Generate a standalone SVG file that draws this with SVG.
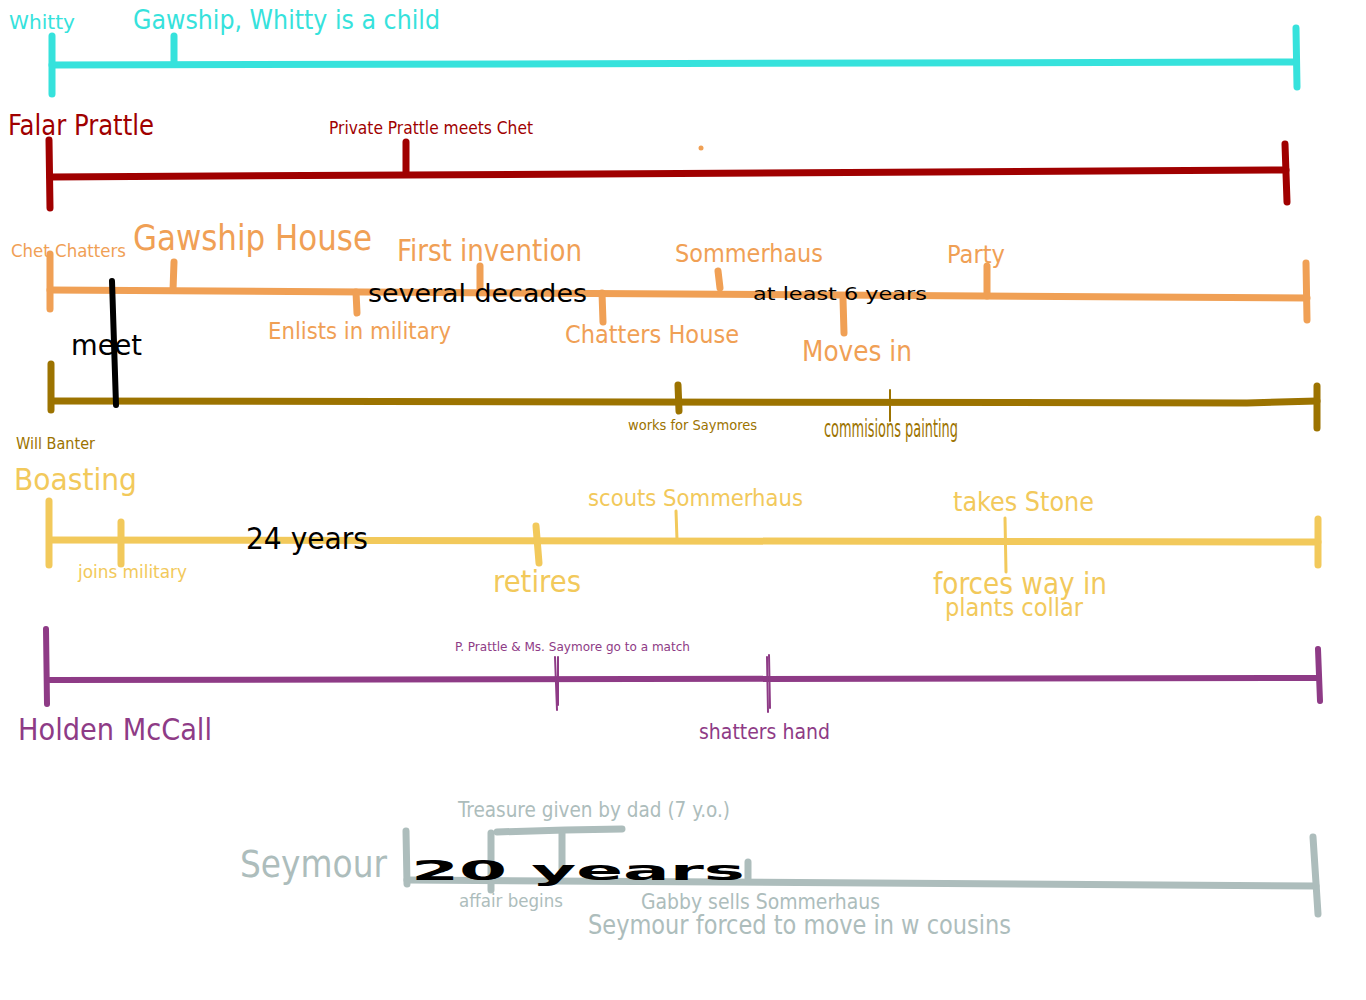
<svg xmlns="http://www.w3.org/2000/svg" width="1366" height="1000" viewBox="0 0 1366 1000">
<style>
text{font-family:"DejaVu Sans Condensed","DejaVu Sans","Liberation Sans",sans-serif;}
.ln{fill:none;stroke-linecap:round;stroke-linejoin:round;}
.cy{stroke:#36E2DC;} .cyt{fill:#36E2DC;}
.rd{stroke:#A00000;} .rdt{fill:#A00000;}
.or{stroke:#F0A055;} .ort{fill:#F0A055;}
.ol{stroke:#9C7300;} .olt{fill:#9C7300;}
.ye{stroke:#F2C95B;} .yet{fill:#F2C95B;}
.pu{stroke:#8E3B86;} .put{fill:#8E3B86;}
.gr{stroke:#ADBDBC;} .grt{fill:#ADBDBC;}
.bk{fill:#000;}
</style>
<rect width="1366" height="1000" fill="#fff"/>

<g id="whitty">
<g class="ln cy" stroke-width="7">
<path d="M52 65 L1296 62"/>
<path d="M52 36 L52 94"/>
<path d="M174 36 L174 63"/>
<path d="M1296 28 L1297 87"/>
</g>
<text class="cyt" x="9" y="29" font-size="20" textLength="66" lengthAdjust="spacingAndGlyphs">Whitty</text>
<text class="cyt" x="133" y="29" font-size="27" textLength="307" lengthAdjust="spacingAndGlyphs">Gawship, Whitty is a child</text>
</g>

<g id="falar-prattle">
<g class="ln rd" stroke-width="7">
<path d="M50 177 L1286 170"/>
<path d="M49 140 L50 208"/>
<path d="M406 142 L406 172"/>
<path d="M1285 144 L1287 202"/>
</g>
<text class="rdt" x="8" y="135" font-size="28" textLength="146" lengthAdjust="spacingAndGlyphs">Falar Prattle</text>
<text class="rdt" x="329" y="134" font-size="17" textLength="204" lengthAdjust="spacingAndGlyphs">Private Prattle meets Chet</text>
<circle cx="701" cy="148" r="2.5" fill="#F0A055"/>
</g>

<g id="chet-chatters">
<g class="ln or" stroke-width="7">
<path d="M50 290 L1307 298"/>
<path d="M50 254 L50 309"/>
<path d="M174 262 L173 290"/>
<path d="M356 292 L357 313"/>
<path d="M480 266 L480 292"/>
<path d="M602 293 L603 322"/>
<path d="M718 271 L720 288"/>
<path d="M843 299 L844 333"/>
<path d="M987 266 L987 296"/>
<path d="M1306 263 L1307 320"/>
</g>
<text class="ort" x="11" y="257" font-size="18" textLength="115" lengthAdjust="spacingAndGlyphs">Chet Chatters</text>
<text class="ort" x="133" y="250" font-size="36" textLength="239" lengthAdjust="spacingAndGlyphs">Gawship House</text>
<text class="ort" x="397" y="261" font-size="30" textLength="185" lengthAdjust="spacingAndGlyphs">First invention</text>
<text class="ort" x="675" y="262" font-size="25" textLength="148" lengthAdjust="spacingAndGlyphs">Sommerhaus</text>
<text class="ort" x="947" y="263" font-size="25" textLength="58" lengthAdjust="spacingAndGlyphs">Party</text>
<text class="ort" x="268" y="339" font-size="23" textLength="183" lengthAdjust="spacingAndGlyphs">Enlists in military</text>
<text class="ort" x="565" y="343" font-size="25" textLength="174" lengthAdjust="spacingAndGlyphs">Chatters House</text>
<text class="ort" x="802" y="361" font-size="29" textLength="110" lengthAdjust="spacingAndGlyphs">Moves in</text>
<text class="bk" x="368" y="302" font-size="25" textLength="219" lengthAdjust="spacingAndGlyphs">several decades</text>
<text class="bk" x="753" y="300" font-size="18" font-family="DejaVu Sans" textLength="174" lengthAdjust="spacingAndGlyphs">at least 6 years</text>
</g>

<g id="will-banter">
<g class="ln ol" stroke-width="7">
<path d="M52 401 L1247 403 L1317 401"/>
<path d="M51 364 L51 410"/>
<path d="M678 385 L679 411"/>
<path d="M1317 386 L1317 428"/>
</g>
<path class="ln ol" stroke-width="2" d="M890 390 L890 421"/>
<text class="olt" x="16" y="449" font-size="15" textLength="79" lengthAdjust="spacingAndGlyphs">Will Banter</text>
<text class="olt" x="628" y="430" font-size="14" textLength="129" lengthAdjust="spacingAndGlyphs">works for Saymores</text>
<text class="olt" x="824" y="437" font-size="25" textLength="134" lengthAdjust="spacingAndGlyphs">commisions painting</text>
</g>

<g id="boasting">
<g class="ln ye" stroke-width="7">
<path d="M50 540 L1318 542"/>
<path d="M49 501 L49 565"/>
<path d="M121 522 L121 564"/>
<path d="M536 526 L539 563"/>
<path d="M1318 519 L1318 565"/>
</g>
<path class="ln ye" stroke-width="3" d="M676 511 L677 540"/>
<path class="ln ye" stroke-width="3" d="M1005 518 L1006 572"/>
<text class="yet" x="14" y="490" font-size="31" textLength="123" lengthAdjust="spacingAndGlyphs">Boasting</text>
<text class="yet" x="78" y="578" font-size="18" textLength="109" lengthAdjust="spacingAndGlyphs">joins military</text>
<text class="bk" x="246" y="549" font-size="31" textLength="122" lengthAdjust="spacingAndGlyphs">24 years</text>
<text class="yet" x="493" y="592" font-size="30" textLength="88" lengthAdjust="spacingAndGlyphs">retires</text>
<text class="yet" x="588" y="506" font-size="23" textLength="215" lengthAdjust="spacingAndGlyphs">scouts Sommerhaus</text>
<text class="yet" x="953" y="511" font-size="27" textLength="141" lengthAdjust="spacingAndGlyphs">takes Stone</text>
<text class="yet" x="933" y="594" font-size="30" textLength="174" lengthAdjust="spacingAndGlyphs">forces way in</text>
<text class="yet" x="945" y="616" font-size="24" textLength="138" lengthAdjust="spacingAndGlyphs">plants collar</text>
</g>

<g id="holden-mccall">
<g class="ln pu" stroke-width="6">
<path d="M50 680 L1319 678"/>
<path d="M46 629 L47 704"/>
<path d="M1318 649 L1320 701"/>
</g>
<g class="ln pu" stroke-width="2">
<path d="M555 657 L557 710"/>
<path d="M558 657 L558 705"/>
<path d="M767 657 L768 712"/>
<path d="M769 655 L770 708"/>
</g>
<text class="put" x="455" y="651" font-size="13" textLength="235" lengthAdjust="spacingAndGlyphs">P. Prattle &amp; Ms. Saymore go to a match</text>
<text class="put" x="18" y="740" font-size="31" textLength="194" lengthAdjust="spacingAndGlyphs">Holden McCall</text>
<text class="put" x="699" y="739" font-size="21" textLength="131" lengthAdjust="spacingAndGlyphs">shatters hand</text>
</g>

<g id="seymour">
<g class="ln gr" stroke-width="7">
<path d="M407 880 L1316 886"/>
<path d="M406 831 L407 884"/>
<path d="M491 833 L491 890"/>
<path d="M497 832 Q560 830 622 829"/>
<path d="M562 833 L562 869"/>
<path d="M748 862 L748 880"/>
<path d="M1313 837 L1318 914"/>
</g>
<text class="grt" x="240" y="877" font-size="38" textLength="147" lengthAdjust="spacingAndGlyphs">Seymour</text>
<text class="grt" x="458" y="817" font-size="21" textLength="272" lengthAdjust="spacingAndGlyphs">Treasure given by dad (7 y.o.)</text>
<text class="grt" x="459" y="907" font-size="18" textLength="104" lengthAdjust="spacingAndGlyphs">affair begins</text>
<text class="grt" x="641" y="909" font-size="21" textLength="239" lengthAdjust="spacingAndGlyphs">Gabby sells Sommerhaus</text>
<text class="grt" x="588" y="934" font-size="26" textLength="423" lengthAdjust="spacingAndGlyphs">Seymour forced to move in w cousins</text>
<text class="bk" x="411" y="880" font-size="26" font-weight="bold" font-family="DejaVu Sans" textLength="334" lengthAdjust="spacingAndGlyphs">20 years</text>
</g>

<g id="connectors">
<path class="ln" stroke="#000" stroke-width="6" d="M112 281 L116 405"/>
<text class="bk" x="71" y="355" font-size="29" textLength="71" lengthAdjust="spacingAndGlyphs">meet</text>
</g>
</svg>
